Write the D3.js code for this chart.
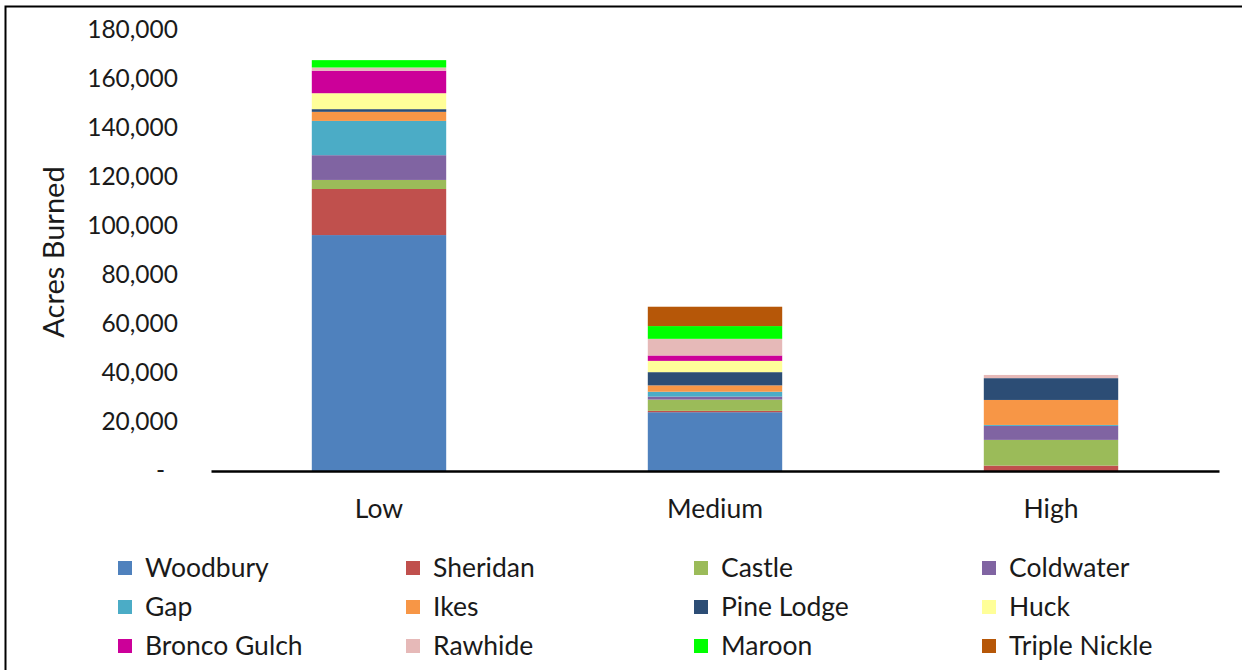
<!DOCTYPE html>
<html>
<head>
<meta charset="utf-8">
<script src="https://cdn.jsdelivr.net/npm/d3@7"></script>
<style>
  body { margin: 0; background: #fff; }
  text { font-family: Lato, "Open Sans", sans-serif; fill: #1a1a1a; }
</style>
</head>
<body>
<svg id="chart" width="1242" height="670"></svg>
<script>
// Datos
const categories = ["Low", "Medium", "High"];
const fires = ["Woodbury", "Sheridan", "Castle", "Coldwater", "Gap", "Ikes",
               "Pine Lodge", "Huck", "Bronco Gulch", "Rawhide", "Maroon", "Triple Nickle"];
const colors = ["#4f81bd", "#c0504d", "#9bbb59", "#8064a2", "#4bacc6", "#f79646",
                "#2c4d75", "#ffff99", "#cc0099", "#e6b9b8", "#00ff00", "#b65708"];
// acres por incendio: [Low, Medium, High]
const woodbury    = [96300, 24000, 0];
const sheridan    = [18800, 550, 2200];
const castle      = [3700, 4600, 10500];
const coldwater   = [10100, 1200, 5700];
const gap         = [14000, 2000, 400];
const ikes        = [3700, 2600, 10200];
const pineLodge   = [1100, 5400, 8900];
const huck        = [6500, 4600, 0];
const broncoGulch = [9200, 2200, 0];
const rawhide     = [1300, 6800, 1300];
const maroon      = [3000, 5200, 0];
const tripleNickle = [0, 7900, 0];
const yTicks = [0, 20000, 40000, 60000, 80000, 100000, 120000, 140000, 160000, 180000];

const series = [woodbury, sheridan, castle, coldwater, gap, ikes,
                pineLodge, huck, broncoGulch, rawhide, maroon, tripleNickle];

const table = categories.map((c, i) => {
  const row = { cat: c };
  fires.forEach((f, j) => row[f] = series[j][i]);
  return row;
});

const svg = d3.select("#chart");

// Marco
svg.append("path")
  .attr("d", "M5.5,670 V6.5 H1242")
  .attr("fill", "none")
  .attr("stroke", "#000")
  .attr("stroke-width", 2);

const x = d3.scaleBand()
  .domain(categories)
  .range([211, 1219])
  .paddingInner(0.6)
  .paddingOuter(0.3);

const y = d3.scaleLinear()
  .domain([0, 180000])
  .range([471, 30]);

const stack = d3.stack().keys(fires)(table);

// Barras
svg.append("g").selectAll("g")
  .data(stack)
  .join("g")
  .attr("fill", (d, i) => colors[i])
  .selectAll("rect")
  .data(d => d)
  .join("rect")
  .attr("x", d => x(d.data.cat))
  .attr("width", x.bandwidth())
  .attr("y", d => y(d[1]))
  .attr("height", d => y(d[0]) - y(d[1]));

// Eje Y (sin línea)
const yAxis = d3.axisLeft(y)
  .tickValues(yTicks)
  .tickSize(0)
  .tickPadding(0)
  .tickFormat(d => d === 0 ? "-" : d3.format(",")(d));

const yg = svg.append("g")
  .attr("transform", "translate(178,0)")
  .call(yAxis);
yg.select(".domain").remove();
yg.selectAll("text")
  .attr("font-size", 24.5)
  .attr("font-family", "Lato, sans-serif")
  .attr("fill", "#1a1a1a")
  .attr("dx", d => d === 0 ? -13 : 0);

// Eje X
const xAxis = d3.axisBottom(x).tickSize(0).tickPadding(28);
const xg = svg.append("g")
  .attr("transform", "translate(0,471)")
  .call(xAxis);
xg.select(".domain")
  .attr("stroke", "#000")
  .attr("stroke-width", 2.5);
xg.selectAll("text")
  .attr("font-size", 26.5)
  .attr("font-family", "Lato, sans-serif")
  .attr("fill", "#1a1a1a");

// Título eje Y
svg.append("text")
  .attr("transform", "translate(64,252) rotate(-90)")
  .attr("text-anchor", "middle")
  .attr("font-size", 29)
  .text("Acres Burned");

// Leyenda
const legend = svg.append("g").selectAll("g")
  .data(fires)
  .join("g")
  .attr("transform", (d, i) => `translate(${118 + (i % 4) * 288},${568 + Math.floor(i / 4) * 39})`);

legend.append("rect")
  .attr("x", 0)
  .attr("y", -7)
  .attr("width", 14)
  .attr("height", 14)
  .attr("fill", (d, i) => colors[i]);

legend.append("text")
  .attr("x", 27)
  .attr("dy", "0.35em")
  .attr("font-size", 26.5)
  .text(d => d);
</script>
</body>
</html>
